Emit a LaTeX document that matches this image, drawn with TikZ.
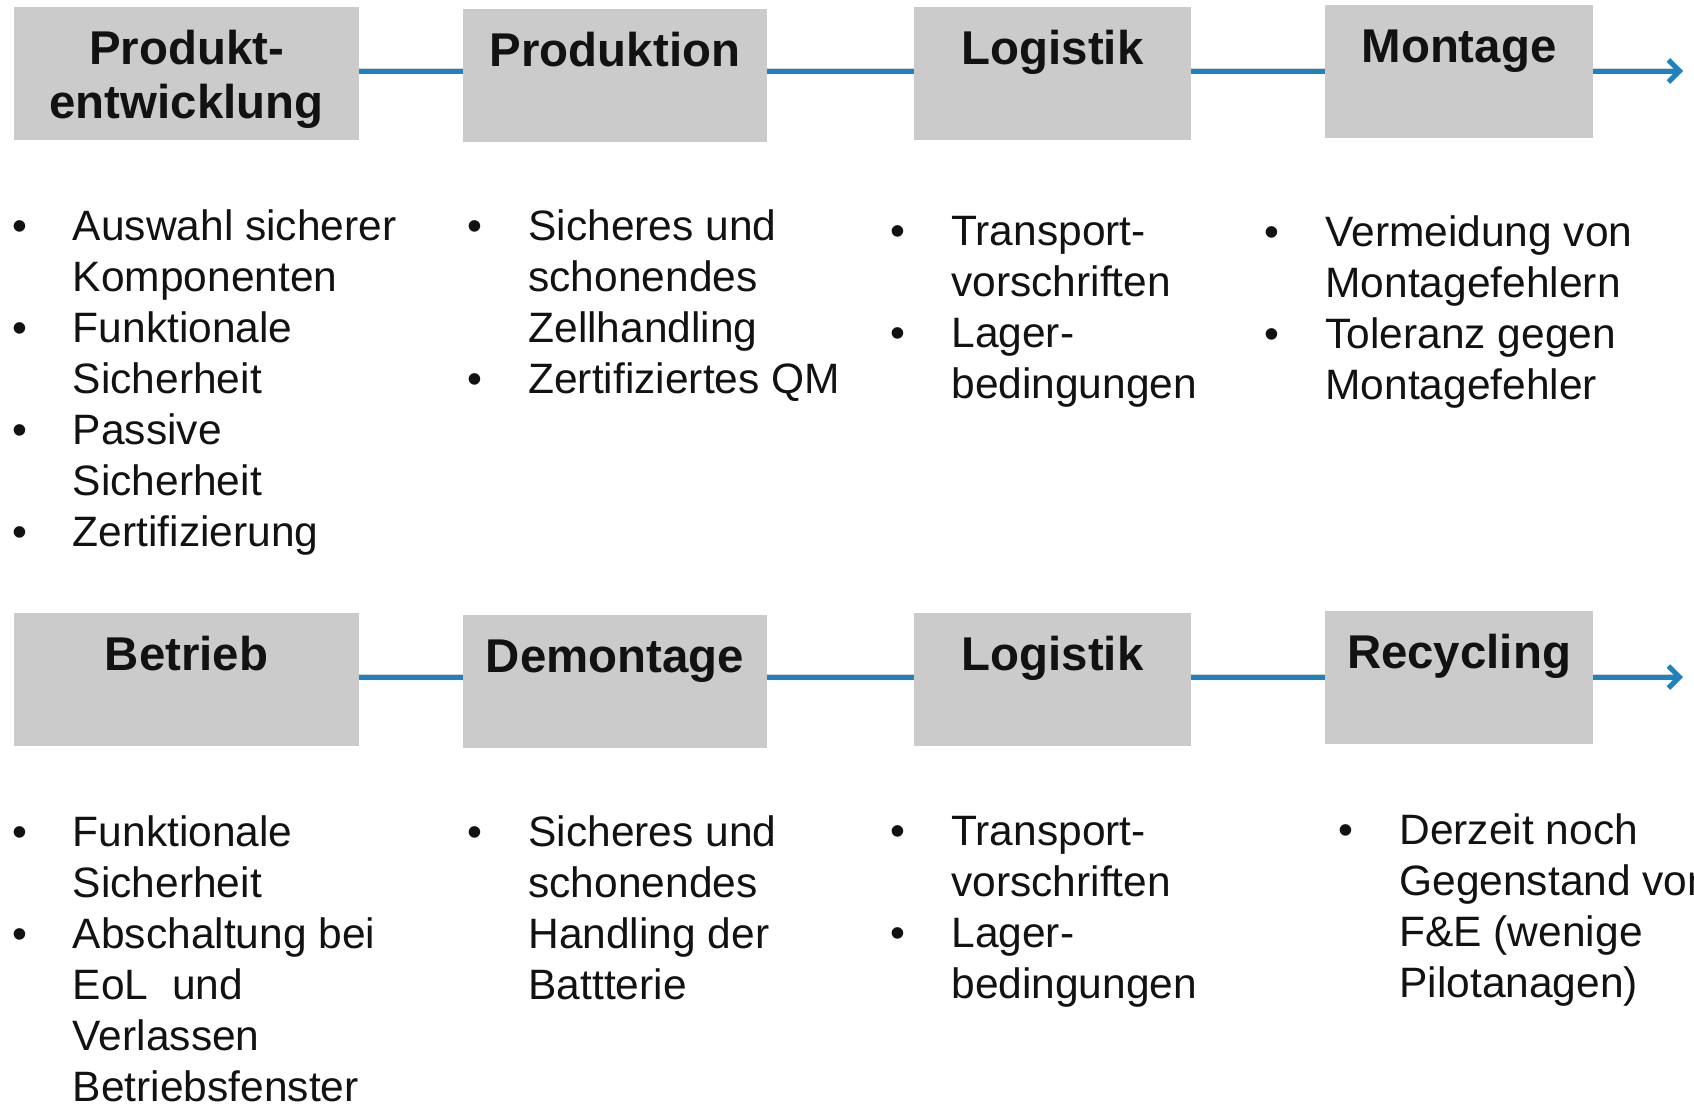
\documentclass[tikz,border=0pt]{standalone}
\usepackage{fontspec}
\setmainfont{Liberation Sans}
\usetikzlibrary{arrows.meta}
\definecolor{boxgray}{RGB}{203,203,203}
\definecolor{flowblue}{RGB}{30,130,192}
\newcommand{\bl}{\makebox[0pt]{\textbullet}}
\newcommand{\twoline}[2]{\begin{tabular}[t]{@{}c@{}}#1\\#2\end{tabular}}
\begin{document}
\begin{tikzpicture}[x=0.5pt,y=-0.5pt,
	stage/.style={fill=boxgray, inner sep=0pt, minimum height=66.5pt, text height=28.9pt, text depth=37.6pt, font=\fontsize{23.7}{27}\selectfont\bfseries, text=black!93},
	items/.style={anchor=base west, inner sep=0pt, font=\fontsize{21.25}{25.5}\selectfont, text=black!93},
	flow/.style={draw=flowblue, line width=2.5pt},
	flowshadow/.style={draw=black!18, line width=3pt, yshift=-3pt}]
	\useasboundingbox (0,0) rectangle (1694,1105);
	
	% upper chain
	\node[stage, minimum width=172.5pt] (b1) at (186.5, 73.5) {\twoline{Produkt-}{entwicklung}};
	\node[stage, minimum width=152pt]   (b2) at (615,   75.5) {Produktion};
	\node[stage, minimum width=138.5pt] (b3) at (1052.5,73.5) {Logistik};
	\node[stage, minimum width=134pt]   (b4) at (1459,  71.5) {Montage};
	
	% lower chain
	\node[stage, minimum width=172.5pt] (b5) at (186.5, 679.5) {Betrieb};
	\node[stage, minimum width=152pt]   (b6) at (615,   681.5) {Demontage};
	\node[stage, minimum width=138.5pt] (b7) at (1052.5,679.5) {Logistik};
	\node[stage, minimum width=134pt]   (b8) at (1459,  677.5) {Recycling};
	
	\coordinate (r1) at (0, 71);
	\coordinate (r2) at (0, 677);
	\coordinate (e1) at (1683, 71);
	\coordinate (e2) at (1683, 677);
	
	\path[flowshadow] (b1.east |- r1) -- (b2.west |- r1);
	\path[flowshadow] (b2.east |- r1) -- (b3.west |- r1);
	\path[flowshadow] (b3.east |- r1) -- (b4.west |- r1);
	\path[flowshadow] (b4.east |- r1) -- ([xshift=-4pt]e1);
	\path[flowshadow] (b5.east |- r2) -- (b6.west |- r2);
	\path[flowshadow] (b6.east |- r2) -- (b7.west |- r2);
	\path[flowshadow] (b7.east |- r2) -- (b8.west |- r2);
	\path[flowshadow] (b8.east |- r2) -- ([xshift=-4pt]e2);
	
	\path[flow] (b1.east |- r1) -- (b2.west |- r1);
	\path[flow] (b2.east |- r1) -- (b3.west |- r1);
	\path[flow] (b3.east |- r1) -- (b4.west |- r1);
	\path[flow, -{Straight Barb[length=5.5pt, width=11pt]}] (b4.east |- r1) -- (e1);
	\path[flow] (b5.east |- r2) -- (b6.west |- r2);
	\path[flow] (b6.east |- r2) -- (b7.west |- r2);
	\path[flow] (b7.east |- r2) -- (b8.west |- r2);
	\path[flow, -{Straight Barb[length=5.5pt, width=11pt]}] (b8.east |- r2) -- (e2);
	
	% bullet lists
	\node[items] (p1) at (19.5, 240) {\begin{tabular}[t]{@{}l@{\hspace{26.5pt}}l@{}}
		\bl & Auswahl sicherer\\
		    & Komponenten\\
		\bl & Funktionale\\
		    & Sicherheit\\
		\bl & Passive\\
		    & Sicherheit\\
		\bl & Zertifizierung
	\end{tabular}};
	\node[items] (p2) at (475, 240) {\begin{tabular}[t]{@{}l@{\hspace{26.5pt}}l@{}}
		\bl & Sicheres und\\
		    & schonendes\\
		    & Zellhandling\\
		\bl & Zertifiziertes QM
	\end{tabular}};
	\node[items] (p3) at (898, 245) {\begin{tabular}[t]{@{}l@{\hspace{26.5pt}}l@{}}
		\bl & Transport-\\
		    & vorschriften\\
		\bl & Lager-\\
		    & bedingungen
	\end{tabular}};
	\node[items] (p4) at (1272, 246) {\begin{tabular}[t]{@{}l@{\hspace{26.5pt}}l@{}}
		\bl & Vermeidung von\\
		    & Montagefehlern\\
		\bl & Toleranz gegen\\
		    & Montagefehler
	\end{tabular}};
	\node[items] (p5) at (19.5, 846) {\begin{tabular}[t]{@{}l@{\hspace{26.5pt}}l@{}}
		\bl & Funktionale\\
		    & Sicherheit\\
		\bl & Abschaltung bei\\
		    & EoL\ \ und\\
		    & Verlassen\\
		    & Betriebsfenster
	\end{tabular}};
	\node[items] (p6) at (475, 846) {\begin{tabular}[t]{@{}l@{\hspace{26.5pt}}l@{}}
		\bl & Sicheres und\\
		    & schonendes\\
		    & Handling der\\
		    & Battterie
	\end{tabular}};
	\node[items] (p7) at (898, 845) {\begin{tabular}[t]{@{}l@{\hspace{26.5pt}}l@{}}
		\bl & Transport-\\
		    & vorschriften\\
		\bl & Lager-\\
		    & bedingungen
	\end{tabular}};
	\node[items] (p8) at (1346, 844) {\begin{tabular}[t]{@{}l@{\hspace{26.5pt}}l@{}}
		\bl & Derzeit noch\\
		    & Gegenstand von\\
		    & F\&E (wenige\\
		    & Pilotanagen)
	\end{tabular}};
	
\end{tikzpicture}
\end{document}
